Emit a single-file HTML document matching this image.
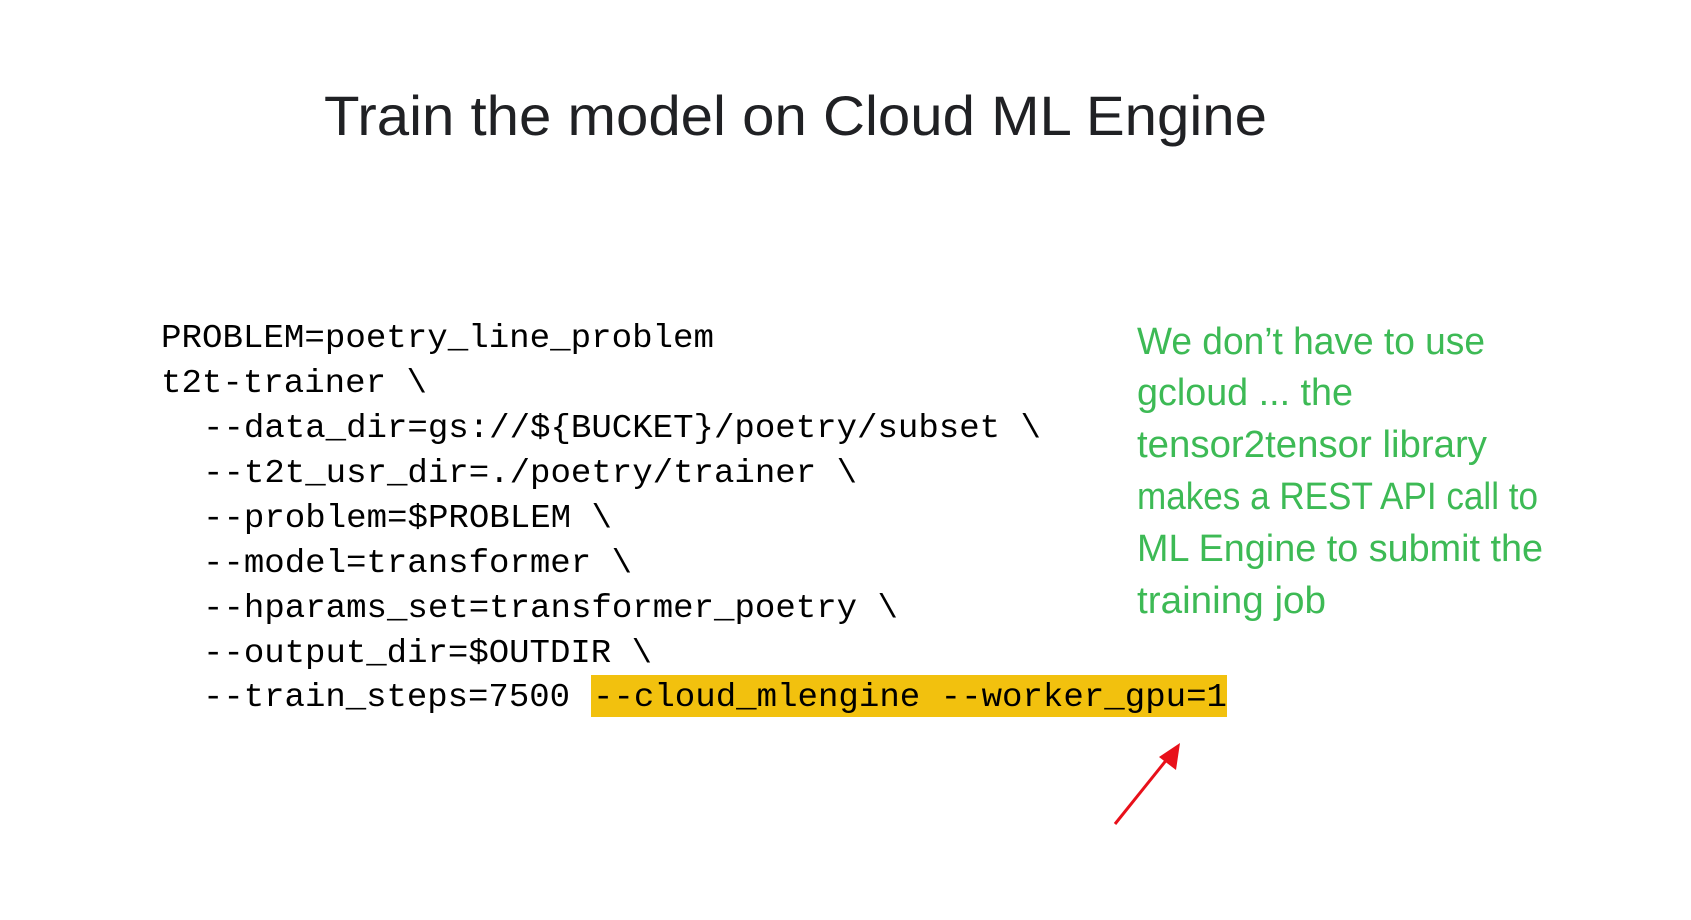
<!DOCTYPE html>
<html><head><meta charset="utf-8"><style>
html,body{margin:0;padding:0;background:#fff;}
svg{display:block}
</style></head><body>
<svg width="1691" height="920" viewBox="0 0 1691 920" xmlns="http://www.w3.org/2000/svg">
<rect width="1691" height="920" fill="#fff"/>
<text x="324" y="135" font-family="Liberation Sans, sans-serif" font-size="56" fill="#202124" textLength="943" lengthAdjust="spacingAndGlyphs">Train the model on Cloud ML Engine</text>
<rect x="591" y="675" width="636" height="42" fill="#f2c10e"/>
<g font-family="Liberation Mono, monospace" font-size="33" fill="#000">
<text x="161" y="347" textLength="553" lengthAdjust="spacingAndGlyphs">PROBLEM=poetry_line_problem</text>
<text x="161" y="392" textLength="266" lengthAdjust="spacingAndGlyphs">t2t-trainer \</text>
<text x="203" y="437" textLength="838" lengthAdjust="spacingAndGlyphs">--data_dir=gs://${BUCKET}/poetry/subset \</text>
<text x="203" y="482" textLength="654" lengthAdjust="spacingAndGlyphs">--t2t_usr_dir=./poetry/trainer \</text>
<text x="203" y="527" textLength="409" lengthAdjust="spacingAndGlyphs">--problem=$PROBLEM \</text>
<text x="203" y="572" textLength="429" lengthAdjust="spacingAndGlyphs">--model=transformer \</text>
<text x="203" y="617" textLength="695" lengthAdjust="spacingAndGlyphs">--hparams_set=transformer_poetry \</text>
<text x="203" y="662" textLength="449" lengthAdjust="spacingAndGlyphs">--output_dir=$OUTDIR \</text>
<text x="203" y="706" textLength="367" lengthAdjust="spacingAndGlyphs">--train_steps=7500</text>
<text x="593" y="706" textLength="634" lengthAdjust="spacingAndGlyphs">--cloud_mlengine --worker_gpu=1</text>
</g>
<g font-family="Liberation Sans, sans-serif" font-size="38" fill="#3dba55">
<text x="1137" y="354" textLength="348" lengthAdjust="spacingAndGlyphs">We don’t have to use</text>
<text x="1137" y="405" textLength="216" lengthAdjust="spacingAndGlyphs">gcloud ... the</text>
<text x="1137" y="457" textLength="350" lengthAdjust="spacingAndGlyphs">tensor2tensor library</text>
<text x="1137" y="509" textLength="401" lengthAdjust="spacingAndGlyphs">makes a REST API call to</text>
<text x="1137" y="561" textLength="406" lengthAdjust="spacingAndGlyphs">ML Engine to submit the</text>
<text x="1137" y="613" textLength="189" lengthAdjust="spacingAndGlyphs">training job</text>
</g>
<line x1="1115" y1="824" x2="1168" y2="758" stroke="#e8101a" stroke-width="3"/>
<polygon points="1180,743 1176,770 1159,757" fill="#e8101a"/>
</svg>
</body></html>
